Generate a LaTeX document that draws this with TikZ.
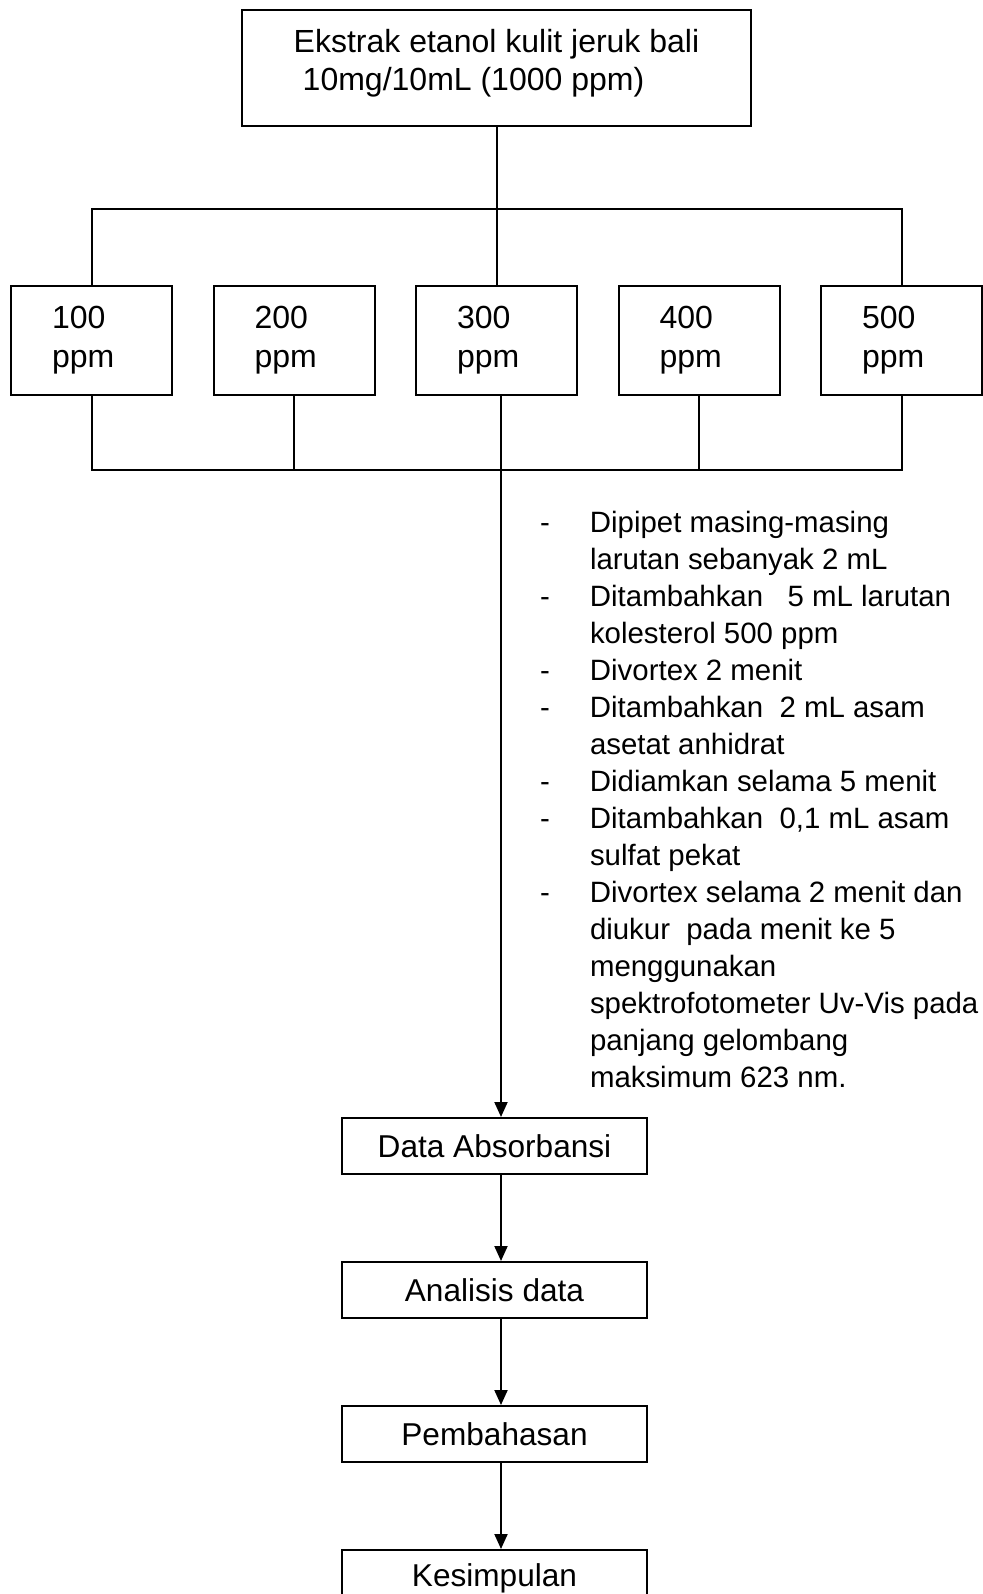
\documentclass[tikz,border=0pt]{standalone}
\usepackage{fontspec}
\setmainfont{Liberation Sans}
\usetikzlibrary{arrows.meta,positioning}

\begin{document}
\begin{tikzpicture}[
  x=0.5pt,
  y=0.5pt,
  >={Triangle[length=7.5pt,width=6.5pt]},
  line width=1pt,
  srcbox/.style={
    draw,
    minimum width=254.5pt,
    minimum height=58pt,
    font=\fontsize{16pt}{19pt}\selectfont
  },
  conc/.style={
    draw,
    align=left,
    text width=39.5pt,
    inner xsep=20.5pt,
    minimum height=54.5pt,
    font=\fontsize{16pt}{19.5pt}\selectfont
  },
  stage/.style={
    draw,
    minimum width=152.5pt,
    minimum height=28pt,
    font=\fontsize{15.8pt}{18pt}\selectfont
  },
  steps/.style={
    align=left,
    inner sep=0pt,
    font=\fontsize{14.7pt}{18.5pt}\selectfont
  },
  flow/.style={->}
]
\useasboundingbox (0,0) rectangle (982,-1594);

% Stock solution
\node[srcbox] (src) at (496.5,-68) {\raisebox{2pt}[\height][\depth]{%
  \begin{tabular}{@{}l@{}}
  Ekstrak etanol kulit jeruk bali\\
  \hspace*{4.5pt}10mg/10mL (1000 ppm)
  \end{tabular}}};

% Dilution series
\node[conc] (c1) at (91.5,-340.5) {100\\ppm};
\node[conc,right=19.75pt of c1] (c2) {200\\ppm};
\node[conc,right=19.75pt of c2] (c3) {300\\ppm};
\node[conc,right=19.75pt of c3] (c4) {400\\ppm};
\node[conc,right=19.75pt of c4] (c5) {500\\ppm};

\coordinate (split) at (496.5,-209);
\coordinate (mix) at (501,-470);

\draw (src) -- (c3);
\draw (c1.north) -- (c1.north |- split) -- (c5.north |- split) -- (c5.north);
\draw (c1.south) -- (c1.south |- mix) -- (c5.south |- mix) -- (c5.south);
\draw (c2.south) -- (c2.south |- mix);
\draw (c4.south) -- (c4.south |- mix);

% Procedure
\node[steps,anchor=north west] (proc) at (539,-510) {
  \makebox[25pt][l]{-}Dipipet masing-masing\\
  \hspace*{25pt}larutan sebanyak 2 mL\\
  \makebox[25pt][l]{-}Ditambahkan \ \ 5 mL larutan\\
  \hspace*{25pt}kolesterol 500 ppm\\
  \makebox[25pt][l]{-}Divortex 2 menit\\
  \makebox[25pt][l]{-}Ditambahkan \ 2 mL asam\\
  \hspace*{25pt}asetat anhidrat\\
  \makebox[25pt][l]{-}Didiamkan selama 5 menit\\
  \makebox[25pt][l]{-}Ditambahkan \ 0,1 mL asam\\
  \hspace*{25pt}sulfat pekat\\
  \makebox[25pt][l]{-}Divortex selama 2 menit dan\\
  \hspace*{25pt}diukur \ pada menit ke 5\\
  \hspace*{25pt}menggunakan\\
  \hspace*{25pt}spektrofotometer Uv-Vis pada\\
  \hspace*{25pt}panjang gelombang\\
  \hspace*{25pt}maksimum 623 nm.
};

% Results
\node[stage] (data) at (494.5,-1146) {Data Absorbansi};
\node[stage,below=43pt of data] (anal) {Analisis data};
\node[stage,below=43pt of anal] (disc) {Pembahasan};
\node[stage,below=43pt of disc] (concl) {Kesimpulan};

\draw[flow] (c3.south -| mix) -- (data.north -| mix);
\draw[flow] (data.south -| mix) -- (anal.north -| mix);
\draw[flow] (anal.south -| mix) -- (disc.north -| mix);
\draw[flow] (disc.south -| mix) -- (concl.north -| mix);

\end{tikzpicture}
\end{document}
